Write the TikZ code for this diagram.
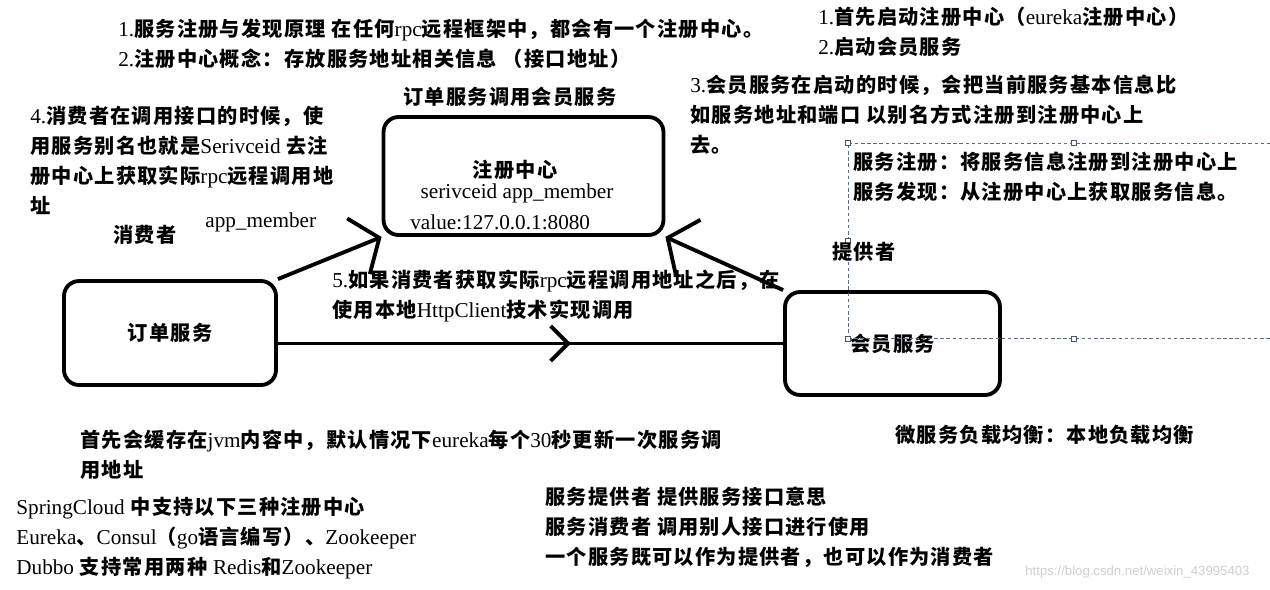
\documentclass[tikz,border=0pt]{standalone}
\usepackage{fontspec}
\usepackage{tikz}
\usetikzlibrary{arrows.meta,decorations.markings}
\setmainfont{Noto Sans CJK SC}[LetterSpace=6]
\newfontfamily\enfont{Liberation Serif}[Scale=1.05]
\newfontfamily\markfont{Liberation Sans}
\definecolor{SelBlue}{HTML}{4F6F99}
\definecolor{MarkGrey}{HTML}{CFCFCF}
\newcommand{\latn}[1]{{\enfont\mdseries #1}}
\newcommand{\cnfont}{\fontsize{11.5}{17}\selectfont\bfseries}

\begin{document}
\begin{tikzpicture}[
  x=0.02cm, y=-0.02cm,
  note/.style={
    anchor=west,
    inner sep=0pt,
    align=left,
    font=\cnfont
  },
  box/.style={
    draw,
    rounded corners=3mm,
    line width=2.2pt,
    font=\cnfont
  },
  selbox/.style={draw=SelBlue, line width=0.5pt, dash pattern=on 2pt off 1.5pt, inner sep=0pt},
  handle/.style={draw=SelBlue!80!black, fill=white, line width=0.4pt},
  call/.style={line width=2.2pt, -{Straight Barb[length=4.5mm,width=12mm]}},
  midcall/.style={line width=2.2pt, postaction={decorate},
    decoration={markings, mark=at position 0.58 with {\arrow{Straight Barb[length=3.5mm,width=7mm]}}}}
]
  \path[fill=white, use as bounding box] (0,0) rectangle (1270,589);

  % services and registry
  \node[box, minimum width=5.6cm, minimum height=2.36cm] (reg) at (523.5,176) {};
  \node[box, minimum width=4.24cm, minimum height=2.08cm] (ord) at (170,333) {订单服务};
  \node[box, minimum width=4.3cm, minimum height=2.06cm] (mem) at (892.5,343.5) {会员服务};

  \node[note, anchor=center] (regname) at (515,170) {注册中心};
  \node[note, anchor=center] (regid) at (517,193) {\latn{serivceid app\_member}};
  \node[note] (regval) at (410,222) {\latn{value:127.0.0.1:8080}};

  % text box selection round the two definitions
  \node[selbox, minimum width=9.04cm, minimum height=3.9cm] (sel) at (1074,240.5) {};
  \foreach \a in {north west,north,west,south west,south}
    \draw[handle] (sel.\a) ++(-2.5,-2.5) rectangle ++(5,5);

  % notes
  \node[note] (principle) at (118,44) {\latn{1.}服务注册与发现原理 在任何\latn{rpc}远程框架中，都会有一个注册中心。\\\latn{2.}注册中心概念：存放服务地址相关信息 （接口地址）};
  \node[note] (start) at (818,32) {\latn{1.}首先启动注册中心（\latn{eureka}注册中心）\\\latn{2.}启动会员服务};
  \node[note] (startmem) at (690,115) {\latn{3.}会员服务在启动的时候，会把当前服务基本信息比\\如服务地址和端口 以别名方式注册到注册中心上\\去。};
  \node[note] (caption) at (403,97) {订单服务调用会员服务};
  \node[note] (lookup) at (30,160.5) {\latn{4.}消费者在调用接口的时候，使\\用服务别名也就是\latn{Serivceid} 去注\\册中心上获取实际\latn{rpc}远程调用地\\址};
  \node[note] (alias) at (205,222) {\latn{app\_member}};
  \node[note] (consumer) at (113,235) {消费者};
  \node[note] (defs) at (853,177) {服务注册：将服务信息注册到注册中心上\\服务发现：从注册中心上获取服务信息。};
  \node[note] (provider) at (832,252) {提供者};
  \node[note] (invoke) at (332,296) {\latn{5.}如果消费者获取实际\latn{rpc}远程调用地址之后，在\\使用本地\latn{HttpClient}技术实现调用};
  \node[note] (cache) at (80,455) {首先会缓存在\latn{jvm}内容中，默认情况下\latn{eureka}每个\latn{30}秒更新一次服务调\\用地址};
  \node[note] (balance) at (895,435) {微服务负载均衡：本地负载均衡};
  \node[note] (kinds) at (16,538) {\latn{SpringCloud} 中支持以下三种注册中心\\\latn{Eureka}、\latn{Consul}（\latn{go}语言编写）、\latn{Zookeeper}\\\latn{Dubbo} 支持常用两种 \latn{Redis}和\latn{Zookeeper}};
  \node[note] (roles) at (545,527) {服务提供者 提供服务接口意思\\服务消费者 调用别人接口进行使用\\一个服务既可以作为提供者，也可以作为消费者};
  \node[anchor=west, inner sep=0pt, text=MarkGrey, font=\markfont\fontsize{7.5}{9}\selectfont] (wmark) at (1025,572) {https://blog.csdn.net/weixin\_43995403};

  % calls
  \draw[call] (ord.north east) -- (reg.south west);
  \draw[call] (mem.north west) -- (reg.south east);
  \draw[midcall] (ord.east |- mem.west) -- (mem.west);
\end{tikzpicture}
\end{document}
